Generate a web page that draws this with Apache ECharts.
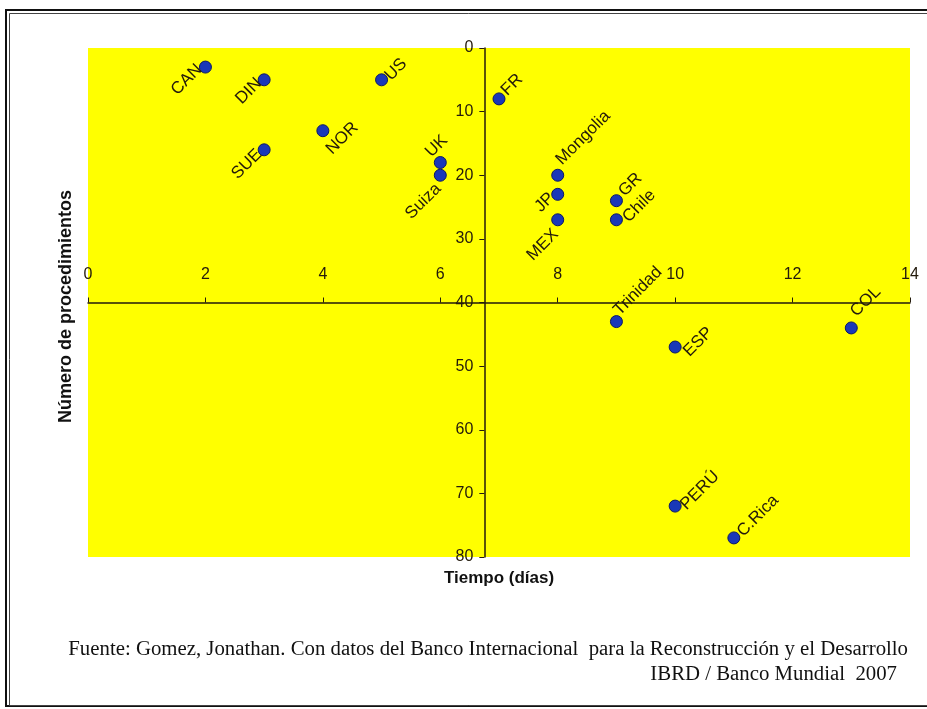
<!DOCTYPE html>
<html><head><meta charset="utf-8">
<script src="https://cdn.jsdelivr.net/npm/echarts@6/dist/echarts.min.js"></script>
<style>html,body{margin:0;padding:0;background:#fff}#c{width:927px;height:709px}</style>
</head><body><div id="c"></div>
<script>
// ---- data ----
const countries  = ['CAN','DIN','US','NOR','SUE','UK','Suiza','FR','Mongolia','JP','MEX','GR','Chile','Trinidad','ESP','COL','PERÚ','C.Rica'];
const days       = [2, 3, 5, 4, 3, 6, 6, 7, 8, 8, 8, 9, 9, 9, 10, 13, 10, 11];
const procedures = [3, 5, 5, 13, 16, 18, 20, 8, 20, 23, 27, 24, 27, 43, 47, 44, 72, 77];
const xRange = [0, 14], xStep = 2, xCross = 6.75;
const yRange = [0, 80], yStep = 10, yCross = 40;
const xTitle = 'Tiempo (días)';
const yTitle = 'Número de procedimientos';
const source1 = 'Fuente: Gomez, Jonathan. Con datos del Banco Internacional  para la Reconstrucción y el Desarrollo';
const source2 = 'IBRD / Banco Mundial  2007';

// ---- label placement (style) ----
const labelPlace = {
  'CAN':['right',-6,0], 'DIN':['right',-5,1], 'SUE':['right',-5,2], 'US':['left',6,-2],
  'NOR':['left',6,21], 'UK':['left',-12,-8], 'Suiza':['right',-2,11], 'FR':['left',5,-6],
  'Mongolia':['left',1,-13], 'JP':['right',-6,1], 'MEX':['right',-2,12], 'GR':['left',5,-7],
  'Chile':['left',9,0], 'Trinidad':['left',0,-9], 'ESP':['left',11,7], 'COL':['left',2,-14],
  'PERÚ':['left',8,1], 'C.Rica':['left',6,-4]
};
function toLocal(sx, sy){
  const c = Math.SQRT1_2;
  return [c*(sx - sy), c*(sx + sy)];
}

const W = 927, H = 709;
const G = {left: 88, right: 17, top: 48, bottom: 152};
const gw = W - G.left - G.right, gh = H - G.top - G.bottom;
const ink = '#231a0c';
const font = 'Liberation Sans, Arial, sans-serif';
const serif = 'Liberation Serif, Times New Roman, serif';

const chart = echarts.init(document.getElementById('c'), null, {renderer:'canvas'});
const pts = countries.map((n, i) => {
  const p = labelPlace[n];
  return {name: n, value: [days[i], procedures[i]],
          label: {align: p[0], offset: toLocal(p[1], p[2])}};
});

chart.setOption({
  animation: false,
  backgroundColor: '#ffffff',
  grid: {left: G.left, right: G.right, top: G.top, bottom: G.bottom, show: true,
         backgroundColor: '#ffff00', borderWidth: 0},
  xAxis: {
    type: 'value', min: xRange[0], max: xRange[1], interval: xStep, position: 'top',
    offset: -(yCross - yRange[0]) / (yRange[1] - yRange[0]) * gh,
    axisLine: {onZero: false, lineStyle: {color: ink, width: 1.5}},
    axisTick: {show: true, length: 5, lineStyle: {color: ink}},
    axisLabel: {margin: 20, fontSize: 16, color: ink, fontFamily: font},
    splitLine: {show: false}
  },
  yAxis: {
    type: 'value', inverse: true, min: yRange[0], max: yRange[1], interval: yStep, position: 'left',
    offset: -(xCross - xRange[0]) / (xRange[1] - xRange[0]) * gw,
    axisLine: {onZero: false, lineStyle: {color: ink, width: 1.5}},
    axisTick: {show: true, length: 5, lineStyle: {color: ink}},
    axisLabel: {margin: 11, fontSize: 16, color: ink, fontFamily: font},
    splitLine: {show: false}
  },
  series: [{
    type: 'scatter', symbolSize: 12, data: pts,
    itemStyle: {color: '#1a38b8', borderColor: '#0b1866', borderWidth: 1, opacity: 1},
    label: {show: true, formatter: '{b}', rotate: 45, position: 'inside',
            verticalAlign: 'middle', fontSize: 17, color: ink, fontFamily: font},
    emphasis: {disabled: true}
  }],
  graphic: [
    {type: 'rect', shape: {x: 6, y: 10, width: 940, height: 696}, style: {fill: 'none', stroke: '#111', lineWidth: 2}, silent: true},
    {type: 'rect', shape: {x: 9.5, y: 13.5, width: 940, height: 692}, style: {fill: 'none', stroke: '#444', lineWidth: 1}, silent: true},
    {type: 'text', x: 66, y: G.top + gh / 2 + 4, rotation: Math.PI / 2,
     style: {text: yTitle, fontSize: 18, fontWeight: 'bold', fill: '#111', fontFamily: font, align: 'center', verticalAlign: 'middle'}},
    {type: 'text', x: G.left + gw / 2, y: 578,
     style: {text: xTitle, fontSize: 17, fontWeight: 'bold', fill: '#111', fontFamily: font, align: 'center', verticalAlign: 'middle'}},
    {type: 'text', x: 908, y: 650,
     style: {text: source1, fontSize: 20.8, fill: '#111', fontFamily: serif, align: 'right', verticalAlign: 'middle'}},
    {type: 'text', x: 897, y: 675,
     style: {text: source2, fontSize: 20.8, fill: '#111', fontFamily: serif, align: 'right', verticalAlign: 'middle'}}
  ]
});
</script></body></html>
